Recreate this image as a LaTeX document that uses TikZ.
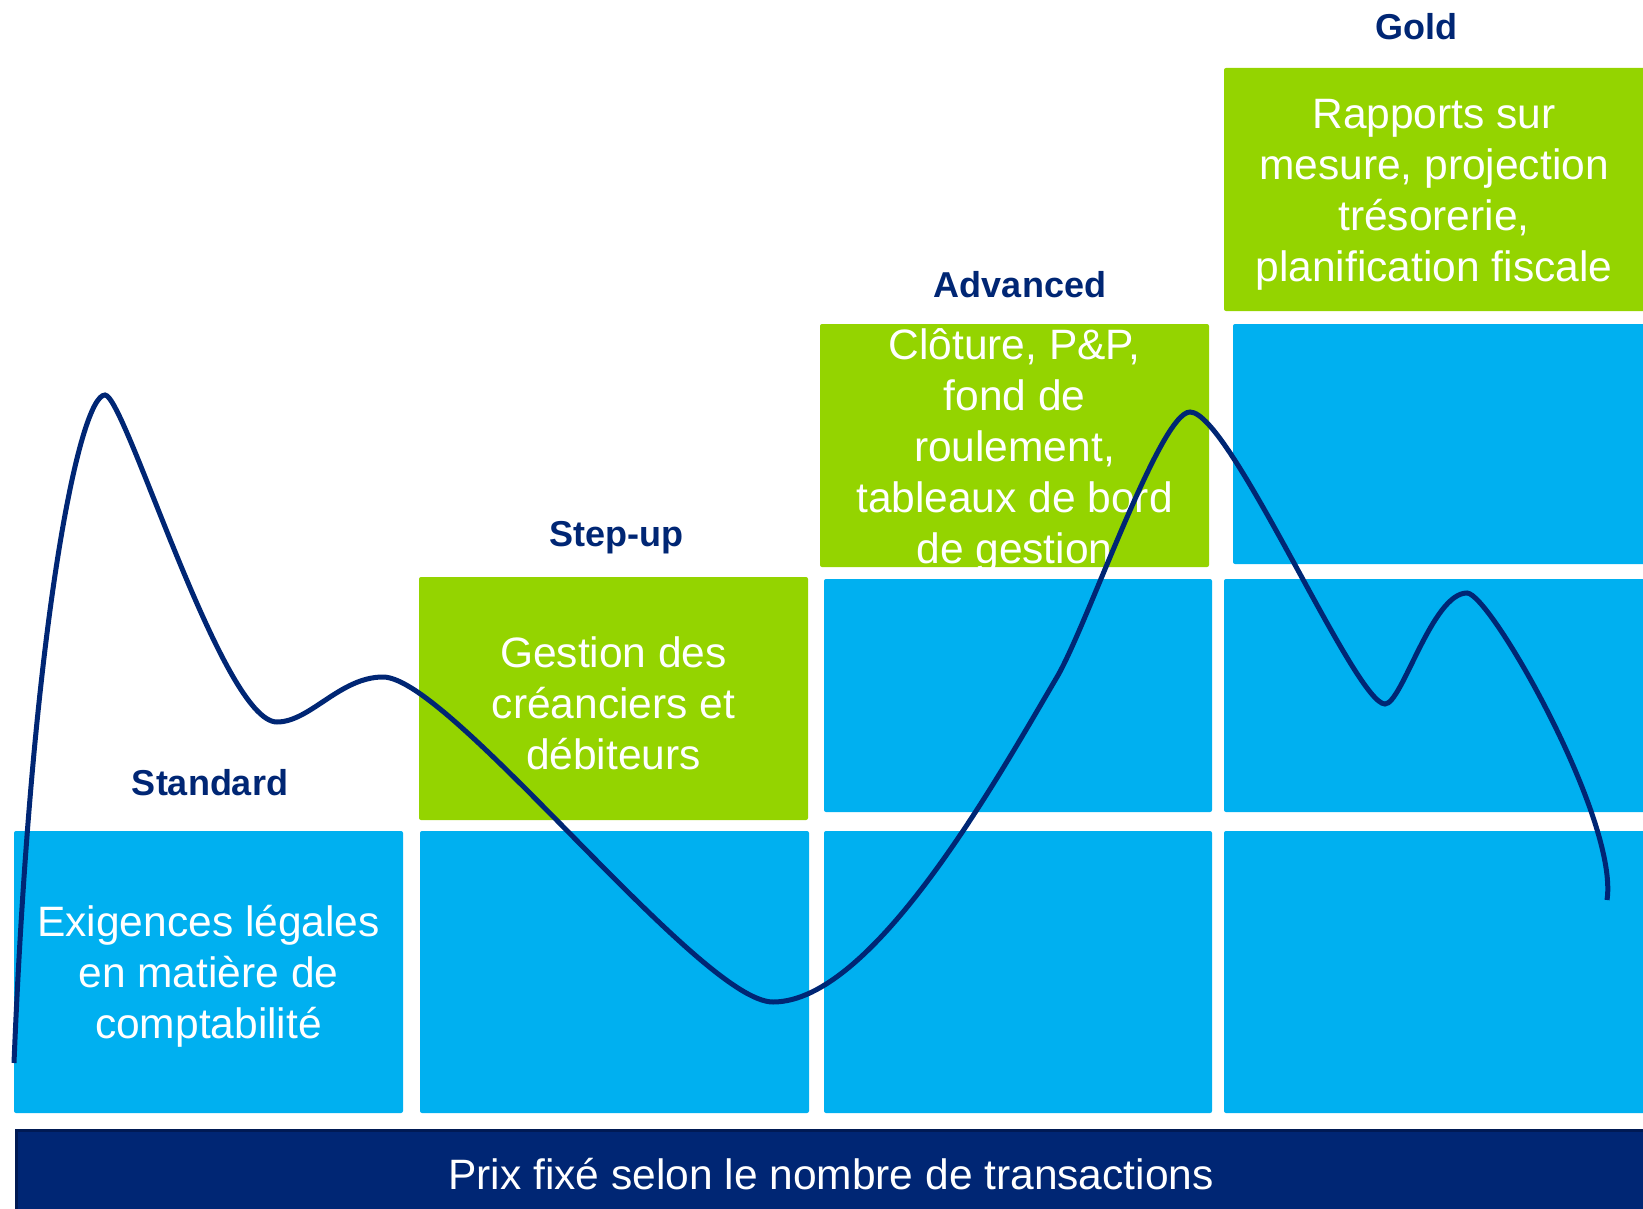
\documentclass[tikz,border=0pt]{standalone}
\usepackage{fontspec}
\setmainfont{Liberation Sans}
\definecolor{cblue}{RGB}{0,176,240}
\definecolor{cgreen}{RGB}{148,212,0}
\definecolor{cnavy}{RGB}{0,38,116}
\definecolor{cnavydark}{RGB}{0,26,84}
\tikzset{
  tile/.style={rounded corners=2pt, inner sep=0pt, draw=none},
  bluetile/.style={tile, fill=cblue},
  greentile/.style={tile, fill=cgreen},
  bodytext/.style={text=white, align=center, inner sep=0pt, font=\fontsize{42.5}{51}\selectfont},
  headtext/.style={text=cnavy, inner sep=0pt, anchor=base, font=\fontsize{36}{43}\selectfont\bfseries},
  wave/.style={draw=cnavy, line width=5pt}
}
\begin{document}
\begin{tikzpicture}[x=1pt,y=-1pt]
\useasboundingbox (0,0) rectangle (1643,1209);
\clip (0,0) rectangle (1643,1209);
% bottom bar
\node[fill=cnavy, draw=cnavydark, line width=3pt, minimum width=1650pt, minimum height=100pt, anchor=north west, inner sep=0pt] (bar) at (15,1129) {};
\node[text=white, anchor=base, inner sep=0pt, font=\fontsize{42.5}{51}\selectfont] (bartext) at (831,1189) {Prix fixé selon le nombre de transactions};
% Standard column
\node[bluetile, minimum width=389pt, minimum height=282pt] (stdb) at (208.5,972) {};
% Step-up column
\node[greentile, minimum width=389pt, minimum height=243pt] (sug) at (613.5,698.5) {};
\node[bluetile, minimum width=389pt, minimum height=282pt] (sub) at (614.5,972) {};
% Advanced column
\node[greentile, minimum width=389pt, minimum height=243pt] (advg) at (1014.5,445.5) {};
\node[bluetile, minimum width=388pt, minimum height=233pt] (advm) at (1018,695.5) {};
\node[bluetile, minimum width=388pt, minimum height=282pt] (advb) at (1018,972) {};
% Gold column
\node[greentile, minimum width=426pt, minimum height=243pt] (gg) at (1437,189.5) {};
\node[bluetile, minimum width=417pt, minimum height=240pt] (gt) at (1441.5,444) {};
\node[bluetile, minimum width=426pt, minimum height=233pt] (gm) at (1437,695.5) {};
\node[bluetile, minimum width=426pt, minimum height=282pt] (gb) at (1437,972) {};
% body texts
\node[bodytext, yshift=-4pt] (stdt) at (stdb.center) {Exigences légales\\en matière de\\comptabilité};
\node[bodytext, yshift=-5pt] (sut) at (sug.center) {Gestion des\\créanciers et\\débiteurs};
\node[bodytext, yshift=-5pt] (advt) at (advg.center) {Clôture, P\&P,\\fond de\\roulement,\\tableaux de bord\\de gestion};
\node[bodytext, yshift=-5pt] (goldt) at (1434,189.5) {Rapports sur\\mesure, projection\\trésorerie,\\planification fiscale};
% headings
\node[headtext] (hstd) at (210,795) {Standard};
\node[headtext] (hsu) at (616,546) {Step-up};
\node[headtext] (hadv) at (1020,297) {Advanced};
\node[headtext] (hgold) at (1416,40) {Gold};
% wave
\draw[wave] (14,1063) .. controls (32,620) and (80,395) .. (105,395)
  .. controls (125,395) and (222,722) .. (277,722)
  .. controls (310,722) and (340,677) .. (383,677)
  .. controls (450,677) and (700,1002) .. (773,1002)
  .. controls (873,1002) and (997,779) .. (1057,677)
  .. controls (1087,626) and (1160,412) .. (1190,412)
  .. controls (1230,412) and (1355,704) .. (1385,704)
  .. controls (1402,704) and (1432,593) .. (1467,593)
  .. controls (1490,593) and (1619,820) .. (1607,900);
\end{tikzpicture}
\end{document}
